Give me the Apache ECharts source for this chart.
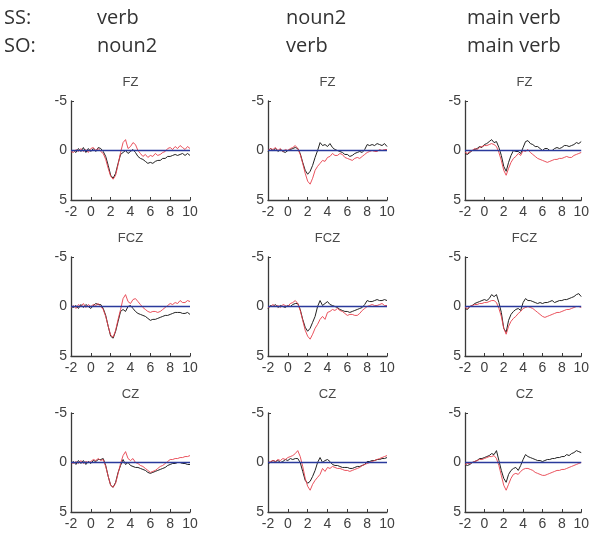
<!DOCTYPE html>
<html>
<head>
<meta charset="utf-8">
<script src="https://cdn.jsdelivr.net/npm/echarts@6/dist/echarts.min.js"></script>
<style>
  html, body { margin: 0; padding: 0; background: #fff; }
  #chart { width: 592px; height: 535px; }
</style>
</head>
<body>
<div id="chart"></div>
<script>
// Time axis (x 100 ms) shared by every waveform
const time = [-2, -1.75, -1.5, -1.25, -1, -0.75, -0.5, -0.25, 0, 0.25, 0.5, 0.75, 1, 1.25, 1.5, 1.75, 2, 2.25, 2.5, 2.75, 3, 3.25, 3.5, 3.75, 4, 4.25, 4.5, 4.75, 5, 5.25, 5.5, 5.75, 6, 6.25, 6.5, 6.75, 7, 7.25, 7.5, 7.75, 8, 8.25, 8.5, 8.75, 9, 9.25, 9.5, 9.75, 10];

const xTicks = [-2, 0, 2, 4, 6, 8, 10];
const yTicks = [-5, 0, 5];

const electrodes = ['FZ', 'FCZ', 'CZ'];
const ssLabels = ['verb', 'noun2', 'main verb'];
const soLabels = ['noun2', 'verb', 'main verb'];

// Grand-average amplitudes (µV); column 1 = SS verb / SO noun2
const fzBlack1 = [0.1,0.0,0.2,-0.2,0.1,-0.3,0.2,-0.2,0.1,-0.2,0.1,-0.3,-0.2,0.1,0.6,1.5,2.5,2.8,2.3,1.3,0.4,0.2,0.0,0.3,0.1,-0.1,0.2,0.6,0.8,0.9,1.1,1.3,1.2,1.3,1.1,1.0,1.0,0.8,0.8,0.6,0.6,0.5,0.4,0.5,0.4,0.3,0.5,0.3,0.5];
const fzRed1 = [0.1,0.2,-0.1,0.1,-0.2,0.1,-0.1,0.2,-0.2,-0.3,0.0,-0.2,0.1,0.3,0.9,1.8,2.6,2.9,2.5,1.4,0.2,-0.8,-1.1,-0.2,-0.4,-0.8,-0.6,0.0,0.3,0.6,0.4,0.7,0.5,0.6,0.3,0.5,0.4,0.2,0.1,-0.2,-0.3,-0.1,-0.4,-0.2,-0.5,-0.3,-0.1,-0.4,-0.2];
const fczBlack1 = [0.0,0.1,-0.1,0.2,-0.2,0.1,-0.2,0.0,0.2,-0.1,-0.3,-0.2,-0.2,0.2,0.9,2.0,3.0,3.2,2.5,1.5,0.5,0.3,0.5,0.0,-0.1,0.2,0.5,0.7,0.8,0.9,1.0,1.2,1.4,1.3,1.3,1.2,1.1,1.0,0.9,0.9,0.8,0.7,0.6,0.6,0.6,0.7,0.7,0.6,0.8];
const fczRed1 = [0.1,-0.1,0.2,-0.2,0.0,-0.3,0.1,-0.2,0.0,-0.2,-0.1,-0.3,0.0,0.3,1.0,2.0,2.9,3.1,2.4,1.3,0.3,-0.8,-1.2,-0.5,-0.3,-0.7,-0.8,-0.5,-0.2,0.1,0.3,0.5,0.6,0.5,0.5,0.6,0.5,0.3,0.1,-0.1,-0.3,-0.2,-0.4,-0.3,-0.6,-0.4,-0.4,-0.6,-0.5];
const czBlack1 = [0.1,-0.1,0.2,-0.2,0.1,-0.2,0.2,-0.1,0.1,-0.2,-0.1,-0.3,-0.3,-0.4,0.3,1.4,2.3,2.5,2.0,1.0,0.3,-0.3,0.2,0.0,0.3,0.4,0.5,0.5,0.6,0.7,0.8,1.0,1.1,1.0,0.9,0.8,0.7,0.6,0.5,0.3,0.2,0.1,0.1,0.0,0.0,0.1,0.1,0.2,0.2];
const czRed1 = [0.0,0.1,-0.1,0.1,-0.2,0.1,-0.1,0.0,-0.1,-0.3,-0.2,-0.4,-0.2,-0.3,0.4,1.4,2.3,2.5,2.1,1.1,0.1,-0.7,-1.1,-0.4,-0.2,-0.4,0.0,0.1,0.3,0.4,0.6,0.8,1.0,0.9,0.8,0.6,0.4,0.3,0.1,-0.1,-0.3,-0.3,-0.4,-0.4,-0.5,-0.5,-0.6,-0.6,-0.7];

// Column 2 = SS noun2 / SO verb
const fzBlack2 = [0.1,-0.2,0.0,-0.2,0.1,-0.1,0.1,0.2,0.0,-0.1,-0.2,-0.3,-0.2,0.3,1.2,2.0,2.4,2.1,1.5,0.7,0.0,-0.8,-0.5,-0.6,-0.4,-0.7,-0.3,-0.1,0.0,0.1,0.2,0.4,0.4,0.6,0.5,0.3,0.2,0.1,0.2,-0.1,-0.6,-0.5,-0.6,-0.5,-0.7,-0.6,-0.5,-0.7,-0.4];
const fzRed2 = [0.0,-0.2,-0.1,-0.3,0.0,-0.2,0.1,-0.1,0.0,-0.2,-0.3,-0.5,-0.2,0.4,1.3,2.3,3.1,3.4,2.8,2.0,1.6,1.3,1.0,1.1,0.7,0.6,0.3,0.5,0.5,0.3,0.4,0.7,0.8,0.9,1.0,0.8,0.7,0.8,0.6,0.4,0.2,0.1,0.0,0.1,0.1,-0.1,0.0,-0.1,-0.1];
const fczBlack2 = [0.2,-0.1,0.0,-0.2,0.1,-0.1,0.0,0.1,-0.1,0.0,-0.2,-0.3,-0.3,0.3,1.3,2.1,2.5,2.2,1.6,1.0,0.0,-0.6,-0.1,-0.3,-0.5,-0.2,-0.1,0.0,0.1,0.3,0.4,0.5,0.5,0.6,0.5,0.4,0.3,0.2,0.1,-0.2,-0.6,-0.5,-0.5,-0.6,-0.7,-0.6,-0.6,-0.7,-0.6];
const fczRed2 = [0.1,0.0,-0.2,0.0,-0.1,0.1,-0.2,-0.1,0.0,-0.3,-0.4,-0.6,-0.3,0.4,1.4,2.4,3.0,3.3,2.8,2.2,1.8,1.3,1.0,1.3,0.6,0.5,0.3,0.4,0.2,0.4,0.5,0.7,0.9,0.8,0.8,0.9,0.9,0.7,0.4,0.2,0.0,-0.1,-0.2,-0.1,-0.1,-0.2,-0.3,-0.1,-0.1];
const czBlack2 = [0.1,0.0,-0.2,-0.1,-0.2,0.0,-0.1,-0.3,-0.2,-0.4,-0.3,-0.4,-0.4,0.0,0.9,1.8,2.1,1.9,1.4,0.8,0.0,-0.5,0.0,-0.2,-0.3,-0.1,0.2,0.3,0.3,0.4,0.5,0.5,0.5,0.6,0.6,0.5,0.4,0.4,0.3,0.2,-0.1,-0.1,-0.2,-0.2,-0.3,-0.3,-0.4,-0.4,-0.5];
const czRed2 = [0.0,-0.1,-0.2,-0.1,-0.3,-0.2,-0.4,-0.3,-0.5,-0.6,-0.7,-0.9,-1.2,-0.6,0.4,1.6,2.4,2.8,2.2,1.8,1.5,1.2,0.6,0.9,0.5,0.6,0.4,0.5,0.6,0.6,0.7,0.8,0.8,0.9,0.8,0.7,0.6,0.5,0.3,0.2,0.1,0.0,-0.1,-0.2,-0.3,-0.4,-0.5,-0.6,-0.7];

// Column 3 = main verb for both orders
const fzBlack3 = [0.3,0.4,0.2,0.0,-0.1,-0.2,-0.4,-0.3,-0.6,-0.7,-0.9,-1.1,-0.8,-0.9,-0.3,0.5,1.6,2.1,1.2,0.5,0.0,0.1,0.1,0.3,-0.3,-0.9,-1.0,-0.7,-0.6,-0.4,-0.4,-0.2,0.0,-0.2,-0.2,0.0,0.0,-0.2,-0.3,-0.2,-0.3,-0.5,-0.5,-0.4,-0.5,-0.6,-0.8,-0.7,-0.9];
const fzRed3 = [0.2,0.3,0.1,0.0,-0.2,-0.1,-0.3,-0.4,-0.5,-0.5,-0.6,-0.7,-0.6,-0.4,0.2,1.0,2.0,2.5,1.8,1.2,0.8,0.6,0.3,0.5,0.0,0.1,-0.1,0.2,0.4,0.6,0.8,0.9,1.0,1.1,1.2,1.1,1.0,0.9,0.9,0.8,0.8,0.7,0.6,0.7,0.7,0.5,0.4,0.3,0.2];
const fczBlack3 = [0.2,0.3,0.0,-0.1,-0.3,-0.4,-0.5,-0.6,-0.7,-0.6,-0.8,-1.2,-1.0,-1.2,-0.4,0.6,2.2,2.6,1.4,0.8,0.5,0.3,0.2,0.4,-0.4,-0.8,-0.6,-0.6,-0.5,-0.4,-0.3,-0.4,-0.3,-0.4,-0.4,-0.5,-0.6,-0.4,-0.5,-0.6,-0.6,-0.7,-0.7,-0.8,-0.9,-1.0,-1.2,-1.3,-1.0];
const fczRed3 = [0.1,0.2,0.0,-0.1,-0.2,-0.2,-0.3,-0.3,-0.4,-0.4,-0.5,-0.6,-0.6,-0.4,0.2,1.0,2.2,2.8,2.0,1.5,1.2,1.0,0.7,0.5,0.2,0.1,0.0,0.1,0.2,0.4,0.6,0.8,1.0,1.1,1.0,0.9,0.8,0.7,0.6,0.6,0.5,0.4,0.3,0.3,0.2,0.1,0.0,0.0,0.1];
const czBlack3 = [0.2,0.3,0.2,0.0,-0.1,-0.2,-0.4,-0.4,-0.5,-0.6,-0.7,-0.9,-0.8,-1.2,-0.2,0.8,1.6,2.0,1.2,0.8,0.6,0.5,0.8,0.3,-0.3,-0.8,-0.6,-0.5,-0.4,-0.3,-0.2,-0.2,-0.1,-0.2,-0.3,-0.3,-0.4,-0.4,-0.5,-0.5,-0.6,-0.6,-0.8,-0.7,-0.9,-1.0,-1.2,-1.1,-1.0];
const czRed3 = [0.2,0.1,0.1,0.0,-0.1,-0.2,-0.3,-0.3,-0.4,-0.5,-0.6,-0.6,-0.7,-0.4,0.3,1.3,2.3,2.8,2.2,1.6,1.2,1.1,1.2,0.9,0.7,0.6,0.6,0.7,0.8,1.0,1.1,1.2,1.3,1.3,1.2,1.1,1.0,0.9,0.8,0.8,0.7,0.7,0.6,0.5,0.4,0.3,0.2,0.1,0.0];

// Rows = electrodes, columns = conditions
const blackWaves = [[fzBlack1, fzBlack2, fzBlack3], [fczBlack1, fczBlack2, fczBlack3], [czBlack1, czBlack2, czBlack3]];
const redWaves = [[fzRed1, fzRed2, fzRed3], [fczRed1, fczRed2, fczRed3], [czRed1, czRed2, czRed3]];

// Panel layout (pixels)
const colLeft = [71, 268, 465];
const rowTop = [101, 257, 413];
const panelW = 119;
const panelH = 99;

const axisColor = '#3a3a3a';
const tickFont = { fontFamily: 'Liberation Sans, Arial, sans-serif', fontSize: 14, color: '#404040' };

const pair = (ys) => ys.map((v, i) => [time[i], v]);

const grids = [], xAxes = [], yAxes = [], series = [], graphics = [];
let idx = 0;
for (let r = 0; r < 3; r++) {
  for (let c = 0; c < 3; c++) {
    grids.push({ left: colLeft[c], top: rowTop[r], width: panelW, height: panelH });
    xAxes.push({
      gridIndex: idx, type: 'value', min: xTicks[0], max: xTicks[xTicks.length - 1], interval: 2,
      axisLine: { show: true, onZero: false, lineStyle: { color: axisColor, width: 1.3 } },
      axisTick: { show: true, inside: true, length: 3, lineStyle: { color: axisColor } },
      axisLabel: Object.assign({ margin: 5, showMinLabel: true, showMaxLabel: true }, tickFont),
      splitLine: { show: false }
    });
    yAxes.push({
      gridIndex: idx, type: 'value', inverse: true, min: yTicks[0], max: yTicks[yTicks.length - 1], interval: 5,
      axisLine: { show: true, onZero: false, lineStyle: { color: axisColor, width: 1.3 } },
      axisTick: { show: true, inside: true, length: 3, lineStyle: { color: axisColor } },
      axisLabel: Object.assign({ margin: 4 }, tickFont),
      splitLine: { show: false }
    });
    series.push({
      type: 'line', xAxisIndex: idx, yAxisIndex: idx, data: pair(blackWaves[r][c]),
      showSymbol: false, symbol: 'none', lineStyle: { color: '#222222', width: 1 }, z: 2
    });
    series.push({
      type: 'line', xAxisIndex: idx, yAxisIndex: idx, data: pair(redWaves[r][c]),
      showSymbol: false, symbol: 'none', lineStyle: { color: '#e8404c', width: 1, opacity: 0.9 }, z: 3
    });
    series.push({
      type: 'line', xAxisIndex: idx, yAxisIndex: idx, data: [[xTicks[0], 0], [xTicks[xTicks.length - 1], 0]],
      showSymbol: false, symbol: 'none', lineStyle: { color: '#2a3a9c', width: 1.5 }, z: 4
    });
    graphics.push({
      type: 'text', x: colLeft[c] + panelW / 2, y: rowTop[r] - 19,
      style: { text: electrodes[r], textAlign: 'center', textVerticalAlign: 'middle',
               font: '13px "Liberation Sans", Arial, sans-serif', fill: '#4a4a4a' }
    });
    idx++;
  }
}

// Condition headers
const headFont = '20px "Open Sans", sans-serif';
const headX = [97, 286, 467];
graphics.push({ type: 'text', x: 4, y: 18, style: { text: 'SS:', textVerticalAlign: 'middle', font: headFont, fill: '#333' } });
graphics.push({ type: 'text', x: 4, y: 46, style: { text: 'SO:', textVerticalAlign: 'middle', font: headFont, fill: '#333' } });
for (let c = 0; c < 3; c++) {
  graphics.push({ type: 'text', x: headX[c], y: 18, style: { text: ssLabels[c], textVerticalAlign: 'middle', font: headFont, fill: '#333' } });
  graphics.push({ type: 'text', x: headX[c], y: 46, style: { text: soLabels[c], textVerticalAlign: 'middle', font: headFont, fill: '#333' } });
}

const chart = echarts.init(document.getElementById('chart'), null, { renderer: 'canvas' });
chart.setOption({
  animation: false,
  backgroundColor: '#ffffff',
  grid: grids,
  xAxis: xAxes,
  yAxis: yAxes,
  series: series,
  graphic: graphics
});
</script>
</body>
</html>
